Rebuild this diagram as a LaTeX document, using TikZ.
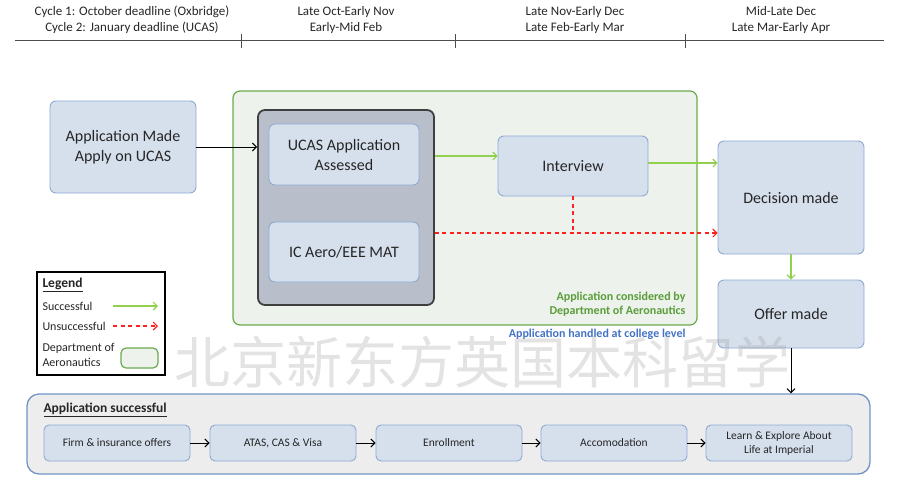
\documentclass[tikz,border=0pt]{standalone}
\usepackage{fontspec}
\setmainfont{Carlito}
\newfontfamily\cjk{Noto Sans CJK SC}
\usetikzlibrary{arrows.meta,positioning,calc}
\definecolor{boxfill}{HTML}{D6E0ED}
\definecolor{boxline}{HTML}{8DA9D4}
\definecolor{deptfill}{HTML}{EDF2EC}
\definecolor{deptline}{HTML}{6AAA4F}
\definecolor{grayfill}{HTML}{B8BFCA}
\definecolor{grayline}{HTML}{3F3F3F}
\definecolor{okgreen}{HTML}{92D050}
\definecolor{badred}{HTML}{FF2020}
\definecolor{lblgreen}{HTML}{5A9E3A}
\definecolor{lblblue}{HTML}{4472C4}
\definecolor{botfill}{HTML}{EDEDED}
\definecolor{botline}{HTML}{7194C8}
\definecolor{txt}{HTML}{262626}
\tikzset{
  fbig/.style={font=\fontsize{16}{20}\selectfont},
  fsmall/.style={font=\fontsize{11.5}{14}\selectfont},
  box/.style={draw=boxline, fill=boxfill, line width=0.9pt, rounded corners=6pt, align=center, text=txt, inner sep=0pt},
  smallbox/.style={box, minimum width=146pt, minimum height=36pt, rounded corners=5pt, fsmall},
  okarrow/.style={color=okgreen, line width=1.1pt, -{Straight Barb[length=4pt,width=8pt]}},
  badarrow/.style={color=badred, line width=1.1pt, dash pattern=on 4pt off 3.5pt, -{Straight Barb[length=4pt,width=8pt]}},
  badline/.style={color=badred, line width=1.3pt, dash pattern=on 4pt off 3.5pt},
  blkarrow/.style={color=black, line width=1pt, -{Straight Barb[length=4pt,width=8pt]}},
  toptext/.style={align=center, text=txt, font=\fontsize{13}{16}\selectfont}
}
\begin{document}
\begin{tikzpicture}[x=1pt,y=-1pt]
\useasboundingbox (0,0) rectangle (900,488);
% timeline
\draw[line width=0.8pt, black!70] (15,40) -- (884,40);
\coordinate (t1) at (241,40);
\coordinate (t2) at (455,40);
\coordinate (t3) at (685,40);
\foreach \t in {t1,t2,t3} \draw[line width=0.6pt, black!70] ($(\t)+(0,-6)$) -- ($(\t)+(0,8)$);
\node[toptext] (c1) at (132,20) {Cycle 1: October deadline (Oxbridge)\\Cycle 2: January deadline (UCAS)};
\node[toptext] (c2) at (346,20) {Late Oct-Early Nov\\Early-Mid Feb};
\node[toptext] (c3) at (575,20) {Late Nov-Early Dec\\Late Feb-Early Mar};
\node[toptext] (c4) at (781,20) {Mid-Late Dec\\Late Mar-Early Apr};

% main boxes
\node[box, minimum width=146pt, minimum height=92pt, fbig] (app) at (123,147) {Application Made\\Apply on UCAS};
\node[draw=deptline, fill=deptfill, line width=1.2pt, rounded corners=7pt, minimum width=464pt, minimum height=234pt] (dept) at (465,208) {};
\node[draw=grayline, fill=grayfill, line width=1.8pt, rounded corners=7pt, minimum width=176pt, minimum height=195pt] (gray) at (346,207.5) {};
\node[box, minimum width=150pt, minimum height=61pt, fbig] (ucas) at (344,154.5) {UCAS Application\\Assessed};
\node[box, minimum width=150pt, minimum height=60pt, fbig] (mat) at (344,252) {IC Aero/EEE MAT};
\node[box, minimum width=150pt, minimum height=60pt, fbig] (interview) at (573,166) {Interview};
\node[box, minimum width=146pt, minimum height=113pt, fbig] (decision) at (791,197.5) {Decision made};
\node[box, minimum width=146pt, minimum height=68pt, fbig] (offer) at (791,314) {Offer made};

\node[anchor=east, align=right, text=lblgreen, font=\bfseries\fontsize{12}{14}\selectfont] (deptlbl) at (689,304) {Application considered by\\Department of Aeronautics};
\node[anchor=east, text=lblblue, font=\bfseries\fontsize{12}{14}\selectfont] (collbl) at (689,334) {Application handled at college level};

% connectors
\draw[blkarrow] (app.east) -- (app.east -| gray.west);
\coordinate (g1) at (gray.east |- 0,156);
\draw[okarrow] (g1) -- (g1 -| interview.west);
\coordinate (i1) at (interview.east |- 0,163);
\draw[okarrow] (i1) -- (i1 -| decision.west);
\coordinate (g2) at (gray.east |- 0,233);
\coordinate (i2) at (interview.south |- 0,233);
\draw[badline] (interview.south) -- (i2);
\draw[badarrow] (g2) -- (g2 -| decision.west);
\draw[okarrow] (decision.south) -- (offer.north);

% legend
\node[draw=black, line width=1.3pt, fill=white, minimum width=128pt, minimum height=103pt] (legend) at (101,323.5) {};
\node[anchor=west, font=\bfseries\fontsize{13.5}{15}\selectfont, text=txt] (lgt) at (39,285) {\underline{Legend}};
\node[anchor=west, font=\fontsize{12}{14}\selectfont, text=txt] (lg1) at (39,306) {Successful};
\node[anchor=west, font=\fontsize{12}{14}\selectfont, text=txt] (lg2) at (39,326) {Unsuccessful};
\node[anchor=west, align=left, font=\fontsize{12}{14.5}\selectfont, text=txt] (lg3) at (39,355) {Department of\\Aeronautics};
\coordinate (s1) at (113,306); \coordinate (s2) at (158,306);
\draw[okarrow] (s1) -- (s2);
\coordinate (u1) at (113,326); \coordinate (u2) at (158,326);
\draw[badarrow] (u1) -- (u2);
\node[draw=deptline, fill=deptfill, line width=1.2pt, rounded corners=5pt, minimum width=37pt, minimum height=20pt] (lgbox) at (139.5,358) {};

% bottom container
\node[draw=botline, fill=botfill, line width=1.3pt, rounded corners=12pt, minimum width=843pt, minimum height=80pt] (bottom) at (448.5,434) {};
\draw[blkarrow] (offer.south) -- (offer.south |- bottom.north);
\node[anchor=west, font=\bfseries\fontsize{13.5}{15}\selectfont, text=txt] (bott) at (40,410) {\underline{Application successful}};
\node[smallbox] (b1) at (117,443) {Firm \& insurance offers};
\node[smallbox] (b2) at (283,443) {ATAS, CAS \& Visa};
\node[smallbox] (b3) at (449,443) {Enrollment};
\node[smallbox] (b4) at (614,443) {Accomodation};
\node[smallbox] (b5) at (779,443) {Learn \& Explore About\\Life at Imperial};
\draw[blkarrow] (b1) -- (b2);
\draw[blkarrow] (b2) -- (b3);
\draw[blkarrow] (b3) -- (b4);
\draw[blkarrow] (b4) -- (b5);

% watermark
\node[text=black!40, opacity=0.28, font=\cjk\fontsize{56}{60}\selectfont, inner sep=0pt] (wm) at (482,362) {北京新东方英国本科留学};
\end{tikzpicture}
\end{document}
